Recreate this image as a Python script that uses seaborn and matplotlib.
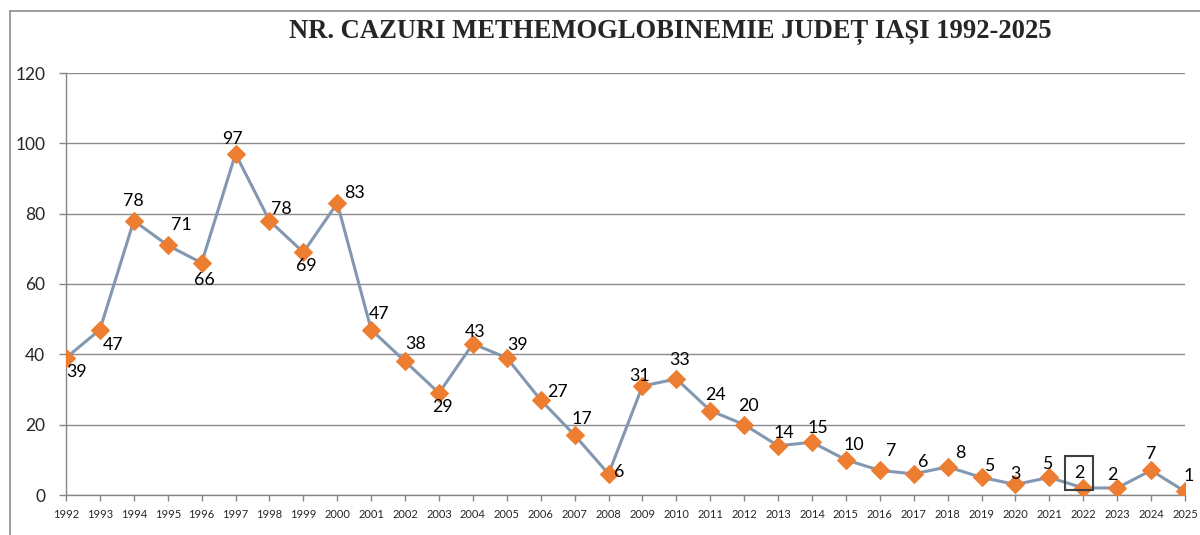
import numpy as np
import pandas as pd
import matplotlib
matplotlib.use('Agg')
import matplotlib.pyplot as plt
import seaborn as sns
from matplotlib.lines import Line2D

years = list(range(1992, 2026))
cases = [39, 47, 78, 71, 66, 97, 78, 69, 83, 47, 38, 29, 43, 39, 27, 17, 6,
         31, 33, 24, 20, 14, 15, 10, 7, 6, 8, 5, 3, 5, 2, 2, 7, 1]
title = 'NR. CAZURI METHEMOGLOBINEMIE JUDEȚ IAȘI 1992-2025'

# label offsets in pixels (dx, dy) relative to each point
offsets = [(11, -14), (13, -15), (0, 20), (14, 20), (3, -17), (-3, 15), (12, 12),
           (3, -14), (17, 10), (8, 16), (10, 17), (3, -14), (2, 12), (11, 13),
           (17, 8), (7, 16), (11, 2), (-3, 10), (3, 19), (5, 16), (4, 19),
           (6, 13), (6, 14), (8, 15), (11, 19), (9, 12), (13, 14), (8, 11),
           (0, 10), (-2, 13), (-4, 15), (-5, 13), (0, 16), (4, 15)]

df = pd.DataFrame({'pos': np.arange(len(years)), 'cases': cases})

sns.set_style('white')
plt.rcParams['font.family'] = ['Lato', 'DejaVu Sans']

fig = plt.figure(figsize=(12, 5.35), dpi=100)
ax = fig.add_axes([66 / 1200, 1 - 495 / 535, (1185 - 66) / 1200, (495 - 73) / 535])

sns.lineplot(data=df, x='pos', y='cases', ax=ax, color='#8497B0', linewidth=2.2,
             marker='D', markersize=9, markerfacecolor='#ED7D31',
             markeredgecolor='#ED7D31', zorder=3)

for i, (x, y) in enumerate(zip(df['pos'], df['cases'])):
    dx, dy = offsets[i]
    kw = {}
    if years[i] == 2022:
        kw['bbox'] = dict(boxstyle='square,pad=0.5', fc='none', ec='#404040', lw=1.5)
    ax.annotate(str(y), (x, y), xytext=(dx, dy), textcoords='offset pixels',
                ha='center', va='center', fontsize=12.8, color='black', **kw)

ax.set_xlim(0, len(years) - 1)
ax.set_ylim(0, 120)
ax.set_yticks(range(0, 121, 20))
ax.set_xticks(df['pos'])
ax.set_xticklabels(years, fontsize=8)
ax.tick_params(axis='y', labelsize=12.5, length=5, width=1, color='#868686', pad=10, left=True)
ax.tick_params(axis='x', length=4, width=1, color='#868686', pad=6, bottom=True)
ax.set_xlabel('')
ax.set_ylabel('')
ax.yaxis.grid(True, color='#8C8C8C', linewidth=1)
ax.set_axisbelow(True)
for s in ['top', 'right']:
    ax.spines[s].set_visible(False)
for s in ['left', 'bottom']:
    ax.spines[s].set_color('#868686')
    ax.spines[s].set_linewidth(1)

fig.text(670 / 1200, 1 - 32 / 535, title, ha='center', va='center',
         fontsize=19.2, fontweight='bold', family='Liberation Serif')

# outer chart frame
fig.add_artist(Line2D([10 / 1200, 1], [1 - 11 / 535, 1 - 11 / 535],
                      transform=fig.transFigure, color='#8C8C8C', lw=1.2))
fig.add_artist(Line2D([10 / 1200, 10 / 1200], [0, 1 - 11 / 535],
                      transform=fig.transFigure, color='#8C8C8C', lw=1.2))

fig.savefig('out.png', dpi=100)
